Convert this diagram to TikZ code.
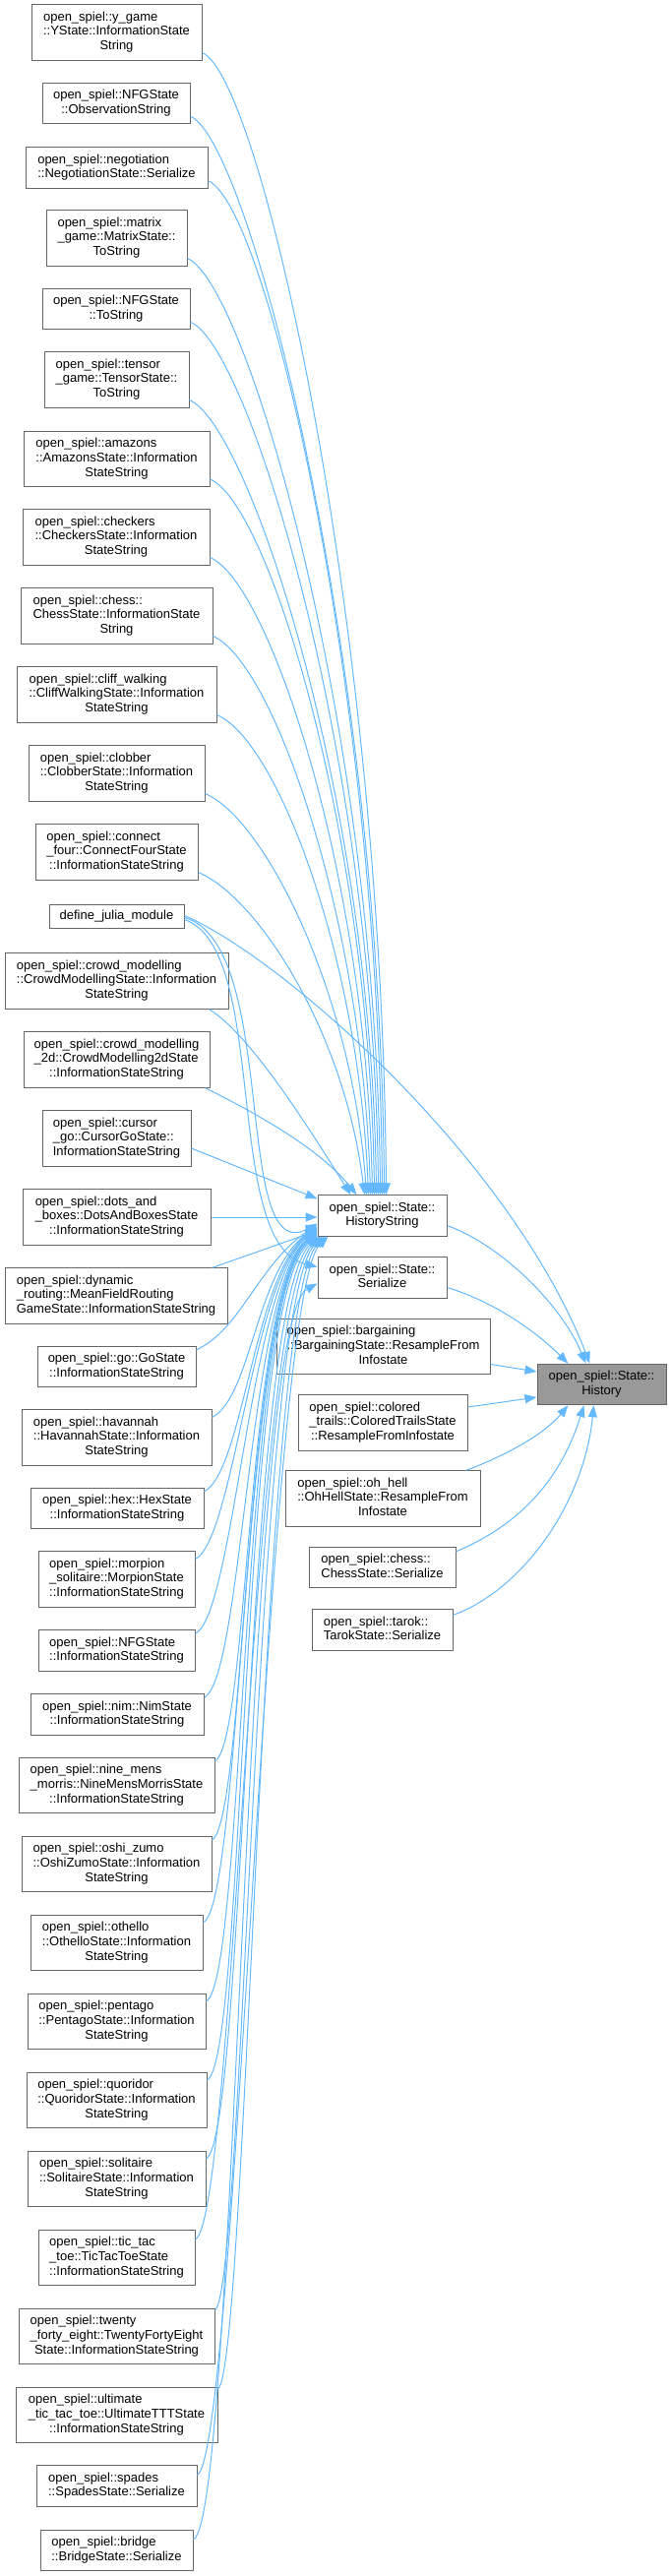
\documentclass[tikz,border=0pt]{standalone}
\usepackage{fontspec}
\setmainfont{Liberation Sans}
\usepackage{tikz}
\usetikzlibrary{arrows.meta}

\definecolor{edgeblue}{HTML}{63B8FF}
\definecolor{boxgray}{HTML}{666666}
\definecolor{targetgray}{HTML}{999999}

% label: all lines left aligned, last line centred
\newcommand{\fnlabel}[2]{\begin{tabular}{@{}l@{}}#1\\\multicolumn{1}{@{}c@{}}{#2}\end{tabular}}

\begin{document}
\begin{tikzpicture}[
  x=1pt, y=-1pt,
  >={Triangle[length=12pt,width=9pt]},
  font=\fontsize{13}{14.7}\selectfont,
  box/.style={draw=boxgray, fill=white, line width=1pt, inner xsep=2pt, inner ysep=6pt},
  target/.style={box, fill=targetgray},
  arr/.style={->, draw=edgeblue, line width=1pt}
]
    \useasboundingbox (0,0) rectangle (682,2618);

    % Left column: callers
    \node[box, minimum width=173] (ygame)     at (118.5,33)     {\fnlabel{open\_spiel::y\_game\\::YState::InformationState}{String}};
    \node[box, minimum width=150] (nfgobs)    at (118,105)      {\fnlabel{open\_spiel::NFGState}{::ObservationString}};
    \node[box, minimum width=185] (nego)      at (118.5,170.5)  {\fnlabel{open\_spiel::negotiation}{::NegotiationState::Serialize}};
    \node[box, minimum width=143] (matrix)    at (118.5,242)    {\fnlabel{open\_spiel::matrix\\\_game::MatrixState::}{ToString}};
    \node[box, minimum width=150] (nfgtostr)  at (118,314)      {\fnlabel{open\_spiel::NFGState}{::ToString}};
    \node[box, minimum width=147] (tensor)    at (118.5,386)    {\fnlabel{open\_spiel::tensor\\\_game::TensorState::}{ToString}};
    \node[box, minimum width=189] (amazons)   at (118.5,466.5)  {\fnlabel{open\_spiel::amazons\\::AmazonsState::Information}{StateString}};
    \node[box, minimum width=190] (checkers)  at (118,546)      {\fnlabel{open\_spiel::checkers\\::CheckersState::Information}{StateString}};
    \node[box, minimum width=195] (chessinfo) at (118.5,626)    {\fnlabel{open\_spiel::chess::\\ChessState::InformationState}{String}};
    \node[box, minimum width=203] (cliff)     at (118.5,706)    {\fnlabel{open\_spiel::cliff\_walking\\::CliffWalkingState::Information}{StateString}};
    \node[box, minimum width=179] (clobber)   at (118.5,786)    {\fnlabel{open\_spiel::clobber\\::ClobberState::Information}{StateString}};
    \node[box, minimum width=165] (connect)   at (118.5,866)    {\fnlabel{open\_spiel::connect\\\_four::ConnectFourState}{::InformationStateString}};
    \node[box, minimum width=137] (julia)     at (118.5,931.5)  {define\_julia\_module};
    \node[box, minimum width=227] (crowd)     at (118.5,997)    {\fnlabel{open\_spiel::crowd\_modelling\\::CrowdModellingState::Information}{StateString}};
    \node[box, minimum width=189] (crowdtwo)  at (118.5,1077)   {\fnlabel{open\_spiel::crowd\_modelling\\\_2d::CrowdModelling2dState}{::InformationStateString}};
    \node[box, minimum width=151] (cursor)    at (118.5,1157)   {\fnlabel{open\_spiel::cursor\\\_go::CursorGoState::}{InformationStateString}};
    \node[box, minimum width=191] (dots)      at (118.5,1237)   {\fnlabel{open\_spiel::dots\_and\\\_boxes::DotsAndBoxesState}{::InformationStateString}};
    \node[box, minimum width=226] (dynamic)   at (118,1317)     {\fnlabel{open\_spiel::dynamic\\\_routing::MeanFieldRouting}{GameState::InformationStateString}};
    \node[box, minimum width=161] (go)        at (118.5,1389)   {\fnlabel{open\_spiel::go::GoState}{::InformationStateString}};
    \node[box, minimum width=193] (havannah)  at (118.5,1461)   {\fnlabel{open\_spiel::havannah\\::HavannahState::Information}{StateString}};
    \node[box, minimum width=176] (hex)       at (119,1533)     {\fnlabel{open\_spiel::hex::HexState}{::InformationStateString}};
    \node[box, minimum width=159] (morpion)   at (118.5,1605)   {\fnlabel{open\_spiel::morpion\\\_solitaire::MorpionState}{::InformationStateString}};
    \node[box, minimum width=159] (nfginfo)   at (118.5,1677.5) {\fnlabel{open\_spiel::NFGState}{::InformationStateString}};
    \node[box, minimum width=176] (nim)       at (119,1742.5)   {\fnlabel{open\_spiel::nim::NimState}{::InformationStateString}};
    \node[box, minimum width=199] (ninemens)  at (118.5,1814.5) {\fnlabel{open\_spiel::nine\_mens\\\_morris::NineMensMorrisState}{::InformationStateString}};
    \node[box, minimum width=193] (oshi)      at (118.5,1894.5) {\fnlabel{open\_spiel::oshi\_zumo\\::OshiZumoState::Information}{StateString}};
    \node[box, minimum width=175] (othello)   at (118.5,1974.5) {\fnlabel{open\_spiel::othello\\::OthelloState::Information}{StateString}};
    \node[box, minimum width=181] (pentago)   at (118.5,2054.5) {\fnlabel{open\_spiel::pentago\\::PentagoState::Information}{StateString}};
    \node[box, minimum width=183] (quoridor)  at (118.5,2134.5) {\fnlabel{open\_spiel::quoridor\\::QuoridorState::Information}{StateString}};
    \node[box, minimum width=181] (solitaire) at (118.5,2214.5) {\fnlabel{open\_spiel::solitaire\\::SolitaireState::Information}{StateString}};
    \node[box, minimum width=159] (tictac)    at (118.5,2294.5) {\fnlabel{open\_spiel::tic\_tac\\\_toe::TicTacToeState}{::InformationStateString}};
    \node[box, minimum width=199] (twenty)    at (118.5,2374.5) {\fnlabel{open\_spiel::twenty\\\_forty\_eight::TwentyFortyEight}{State::InformationStateString}};
    \node[box, minimum width=205] (ultimate)  at (118.5,2454.5) {\fnlabel{open\_spiel::ultimate\\\_tic\_tac\_toe::UltimateTTTState}{::InformationStateString}};
    \node[box, minimum width=163] (spades)    at (118.5,2526.5) {\fnlabel{open\_spiel::spades}{::SpadesState::Serialize}};
    \node[box, minimum width=155] (bridge)    at (118.5,2592)   {\fnlabel{open\_spiel::bridge}{::BridgeState::Serialize}};

    % Middle column
    \node[box, minimum width=131] (histstr)   at (388.5,1235.5) {\fnlabel{open\_spiel::State::}{HistoryString}};
    \node[box, minimum width=131] (serialize) at (388.5,1298.5) {\fnlabel{open\_spiel::State::}{Serialize}};
    \node[box, minimum width=217] (bargain)   at (389.5,1368.5) {\fnlabel{open\_spiel::bargaining\\::BargainingState::ResampleFrom}{Infostate}};
    \node[box, minimum width=172] (colored)   at (389,1446)     {\fnlabel{open\_spiel::colored\\\_trails::ColoredTrailsState}{::ResampleFromInfostate}};
    \node[box, minimum width=198] (ohhell)    at (389,1523)     {\fnlabel{open\_spiel::oh\_hell\\::OhHellState::ResampleFrom}{Infostate}};
    \node[box, minimum width=149] (chessser)  at (388.5,1593)   {\fnlabel{open\_spiel::chess::}{ChessState::Serialize}};
    \node[box, minimum width=143] (tarok)     at (388.5,1656.5) {\fnlabel{open\_spiel::tarok::}{TarokState::Serialize}};

    % Target
    \node[target, minimum width=131] (history) at (611.5,1407)  {\fnlabel{open\_spiel::State::}{History}};

    % Upper callers -> HistoryString (from above)
    \draw[arr] ([yshift=8pt]ygame.south east)     .. controls +(60,25) and +(-4,-580) .. ([xshift=4pt]histstr.north);
    \draw[arr] ([yshift=8pt]nfgobs.south east)    .. controls +(60,25) and +(-4,-550) .. ([xshift=2pt]histstr.north);
    \draw[arr] ([yshift=8pt]nego.south east)      .. controls +(60,25) and +(-4,-515) .. ([xshift=0pt]histstr.north);
    \draw[arr] ([yshift=8pt]matrix.south east)    .. controls +(60,25) and +(-4,-475) .. ([xshift=-2pt]histstr.north);
    \draw[arr] ([yshift=8pt]nfgtostr.south east)  .. controls +(60,25) and +(-4,-445) .. ([xshift=-4pt]histstr.north);
    \draw[arr] ([yshift=8pt]tensor.south east)    .. controls +(60,25) and +(-5,-405) .. ([xshift=-6pt]histstr.north);
    \draw[arr] ([yshift=8pt]amazons.south east)   .. controls +(60,25) and +(-5,-365) .. ([xshift=-8pt]histstr.north);
    \draw[arr] ([yshift=8pt]checkers.south east)  .. controls +(60,25) and +(-6,-325) .. ([xshift=-10pt]histstr.north);
    \draw[arr] ([yshift=8pt]chessinfo.south east) .. controls +(60,25) and +(-8,-285) .. ([xshift=-12pt]histstr.north);
    \draw[arr] ([yshift=8pt]cliff.south east)     .. controls +(60,25) and +(-10,-245) .. ([xshift=-14pt]histstr.north);
    \draw[arr] ([yshift=8pt]clobber.south east)   .. controls +(60,25) and +(-14,-205) .. ([xshift=-16pt]histstr.north);
    \draw[arr] ([yshift=8pt]connect.south east)   .. controls +(60,25) and +(-20,-165) .. ([xshift=-18pt]histstr.north);

    % define_julia_module -> three callees
    \draw[arr] ([yshift=1pt]julia.east)  .. controls (290,975) and (520,1180) .. ([xshift=-12pt]history.north);
    \draw[arr] ([yshift=-1pt]julia.east) .. controls (285,960) and (235,1290) .. ([yshift=13pt]histstr.south west);
    \draw[arr] ([yshift=-3pt]julia.east) .. controls (275,965) and (225,1265) .. ([yshift=11pt]serialize.west);

    % Middle callers -> HistoryString
    \draw[arr] ([xshift=-20pt]crowd.south east)    .. controls +(40,25) and +(-50,-80) .. ([xshift=-32pt]histstr.north);
    \draw[arr] ([xshift=-5pt]crowdtwo.south east)  .. controls +(40,20) and +(-40,-50) .. ([xshift=-26pt]histstr.north);
    \draw[arr] ([yshift=-10pt]cursor.east) -- ([yshift=-4pt]histstr.north west);
    \draw[arr] (dots.east) -- ([yshift=-1.5pt]histstr.west);
    \draw[arr] ([xshift=-16pt]dynamic.north east) -- ([yshift=6pt]histstr.south west);

    % Lower callers -> HistoryString (from below)
    \draw[arr] ([yshift=-4pt]go.north east)        .. controls +(45,-20) and +(-60,40) .. ([yshift=12pt]histstr.south west);
    \draw[arr] ([yshift=-8pt]havannah.north east)  .. controls +(40,-20) and +(-62,42) .. ([yshift=10pt]histstr.south west);
    \draw[arr] ([yshift=-4pt]hex.north east)       .. controls +(40,-20) and +(-64,44) .. ([yshift=9pt]histstr.south west);
    \draw[arr] ([yshift=-8pt]morpion.north east)   .. controls +(40,-20) and +(-66,46) .. ([yshift=8pt]histstr.south west);
    \draw[arr] ([yshift=-4pt]nfginfo.north east)   .. controls +(40,-20) and +(-68,48) .. ([yshift=7pt]histstr.south west);
    \draw[arr] ([yshift=-4pt]nim.north east)       .. controls +(40,-20) and +(-70,50) .. ([yshift=5pt]histstr.south west);
    \draw[arr] ([yshift=-4pt]ninemens.north east)  .. controls +(35,-20) and +(-72,52) .. ([yshift=4pt]histstr.south west);
    \draw[arr] ([yshift=-4pt]oshi.north east)      .. controls +(35,-20) and +(-74,54) .. ([yshift=3pt]histstr.south west);
    \draw[arr] ([yshift=-8pt]othello.north east)   .. controls +(40,-20) and +(-76,56) .. ([yshift=2pt]histstr.south west);
    \draw[arr] ([yshift=-8pt]pentago.north east)   .. controls +(40,-20) and +(-78,58) .. ([yshift=1pt]histstr.south west);
    \draw[arr] ([yshift=-8pt]quoridor.north east)  .. controls +(40,-20) and +(-80,60) .. ([xshift=1pt]histstr.south west);
    \draw[arr] ([yshift=-8pt]solitaire.north east) .. controls +(40,-20) and +(-76,60) .. ([xshift=3pt]histstr.south west);
    \draw[arr] ([yshift=-10pt]tictac.north east)   .. controls +(40,-20) and +(-72,60) .. ([xshift=5pt]histstr.south west);
    \draw[arr] ([yshift=-2pt]twenty.north east)    .. controls +(30,-20) and +(-70,60) .. ([xshift=7pt]histstr.south west);
    \draw[arr] ([yshift=-2pt]ultimate.north east)  .. controls +(30,-20) and +(-66,60) .. ([xshift=9pt]histstr.south west);
    \draw[arr] ([yshift=-10pt]spades.north east)   .. controls +(40,-20) and +(-62,60) .. ([xshift=11pt]histstr.south west);
    \draw[arr] ([yshift=-10pt]bridge.north east)   .. controls +(45,-20) and +(-75,40) .. ([yshift=-6pt]serialize.west);

    % Right part -> History
    \draw[arr] ([yshift=-10pt]histstr.east)   .. controls +(55,20) and +(-25,-60) .. ([xshift=-16pt]history.north);
    \draw[arr] ([yshift=-10pt]serialize.east) .. controls +(50,15) and +(-30,-30) .. ([xshift=-34pt]history.north);
    \draw[arr] ([yshift=-18pt]bargain.east) -- ([yshift=13pt]history.west);
    \draw[arr] ([yshift=16pt]colored.east)  -- ([yshift=-13pt]history.west);
    \draw[arr] ([xshift=-15pt]ohhell.north east) .. controls +(40,-15) and +(-25,30) .. ([xshift=-34pt]history.south);
    \draw[arr] ([yshift=-5pt]chessser.north east) .. controls +(60,-25) and +(-25,80) .. ([xshift=-18pt]history.south);
    \draw[arr] ([yshift=-6pt]tarok.north east)    .. controls +(70,-25) and +(-10,100) .. ([xshift=-8pt]history.south);
\end{tikzpicture}
\end{document}
